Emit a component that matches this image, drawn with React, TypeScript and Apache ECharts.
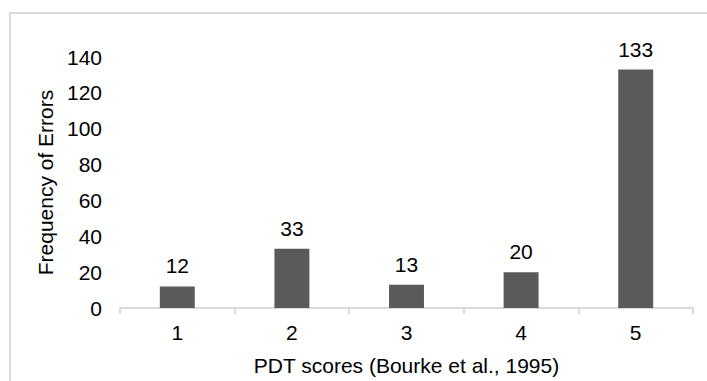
import React, { useEffect, useRef } from "react";
import * as echarts from "echarts";

const categories = ["1", "2", "3", "4", "5"];
const errorCounts = [12, 33, 13, 20, 133];
const yTicks = [0, 20, 40, 60, 80, 100, 120, 140];

const FONT = "'Liberation Sans', Arial, Helvetica, sans-serif";
const FONT_SIZE = 21;

export default function App() {
  const ref = useRef<HTMLDivElement>(null);

  useEffect(() => {
    if (!ref.current) return;
    const chart = echarts.init(ref.current, undefined, { renderer: "svg" });
    chart.setOption({
      animation: false,
      backgroundColor: "#ffffff",
      textStyle: { fontFamily: FONT },
      graphic: [
        {
          type: "rect",
          shape: { x: 10, y: 13, width: 800, height: 500 },
          style: { fill: "none", stroke: "#d9d9d9", lineWidth: 2 },
          silent: true,
        },
      ],
      grid: { left: 120, right: 14, top: 57, bottom: 70, containLabel: false },
      xAxis: {
        type: "category",
        data: categories,
        name: "PDT scores (Bourke et al., 1995)",
        nameLocation: "middle",
        nameGap: 47,
        nameTextStyle: { fontSize: FONT_SIZE, color: "#000", fontFamily: FONT },
        axisLine: { lineStyle: { color: "#d9d9d9", width: 2 } },
        axisTick: { show: true, length: 6, lineStyle: { color: "#d9d9d9", width: 2 } },
        axisLabel: { fontSize: FONT_SIZE, color: "#000", margin: 14, fontFamily: FONT },
      },
      yAxis: {
        type: "value",
        min: yTicks[0],
        max: yTicks[yTicks.length - 1],
        interval: 20,
        name: "Frequency of Errors",
        nameLocation: "middle",
        nameGap: 64,
        nameTextStyle: { fontSize: FONT_SIZE, color: "#000", fontFamily: FONT },
        axisLine: { show: false },
        axisTick: { show: false },
        splitLine: { show: false },
        axisLabel: { fontSize: FONT_SIZE, color: "#000", margin: 18, fontFamily: FONT },
      },
      series: [
        {
          type: "bar",
          data: errorCounts,
          barWidth: "30.5%",
          itemStyle: { color: "#5a5a5a" },
          label: {
            show: true,
            position: "top",
            distance: 10,
            fontSize: FONT_SIZE,
            color: "#000",
            fontFamily: FONT,
          },
        },
      ],
    });
    return () => chart.dispose();
  }, []);

  return (
    <div
      ref={ref}
      style={{ position: "fixed", left: 0, top: 0, width: 707, height: 381 }}
    />
  );
}
